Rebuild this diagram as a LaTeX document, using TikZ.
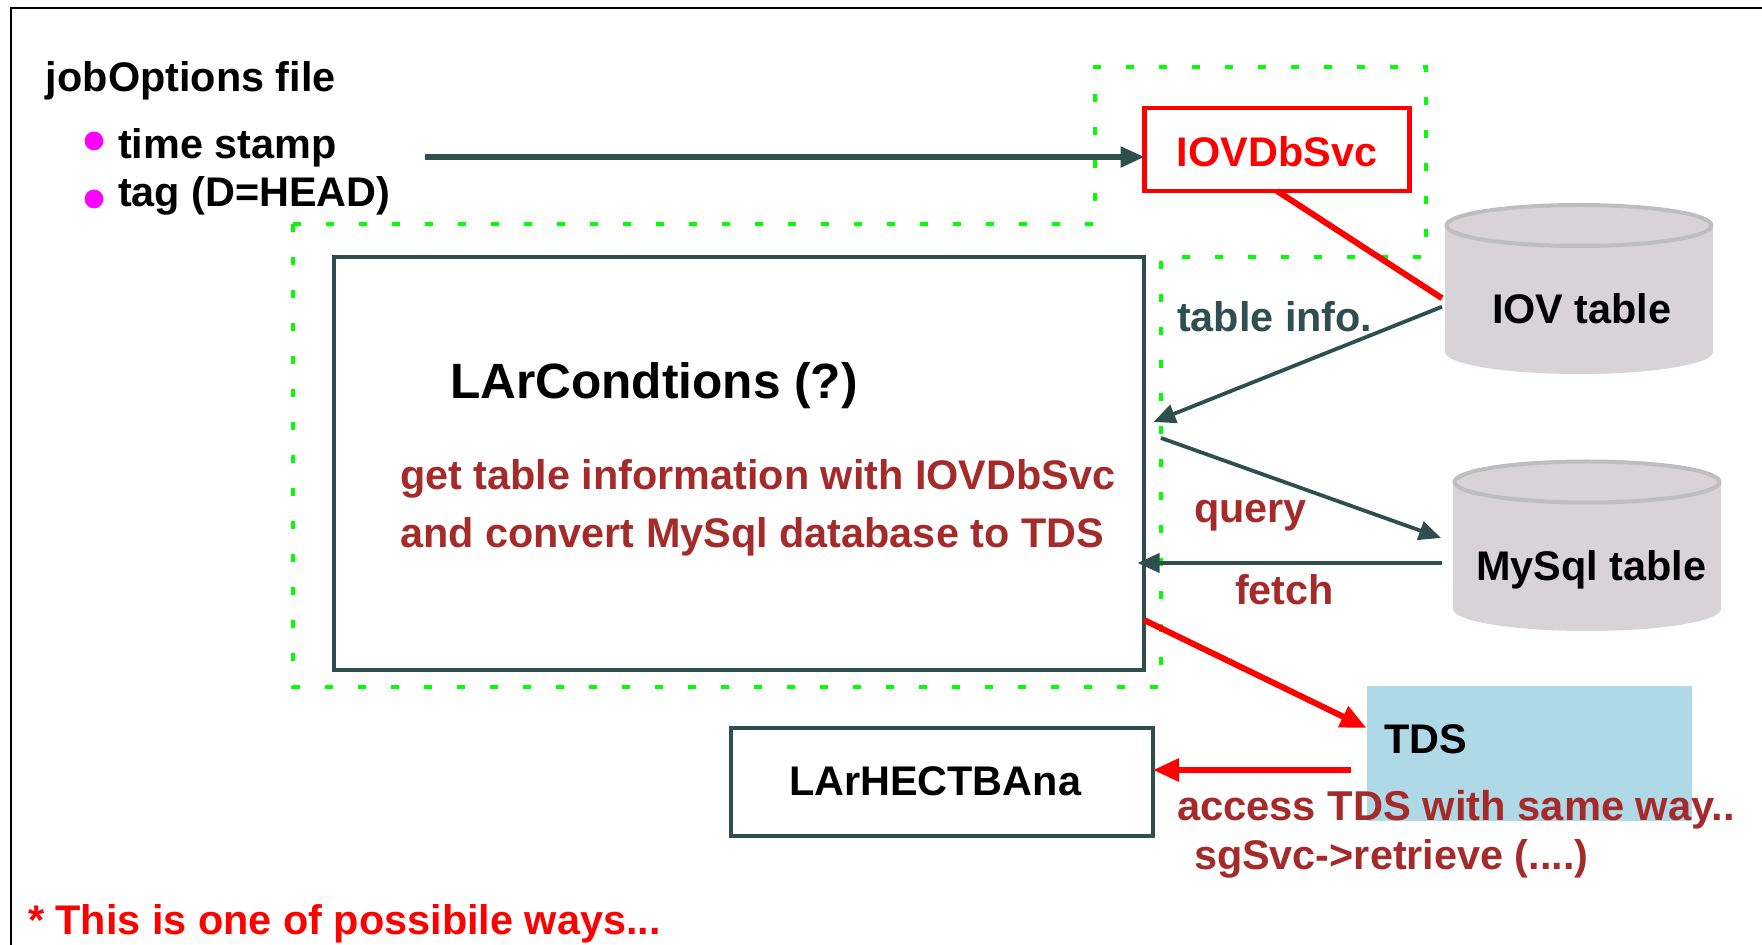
\documentclass[tikz,border=0pt]{standalone}
\usepackage{fontspec}
\setmainfont{Liberation Sans}
\usetikzlibrary{arrows.meta}
\usetikzlibrary{shapes.geometric}
\definecolor{slatedark}{HTML}{2F4F4F}
\definecolor{brownred}{HTML}{A52A2A}
\definecolor{tdsblue}{HTML}{B0D9E7}
\definecolor{dbgray}{HTML}{D7D3D7}
\definecolor{lidgray}{HTML}{BEBEBE}
\definecolor{framegreen}{HTML}{00FF00}
\definecolor{dotpink}{HTML}{FF00FF}
\tikzset{x=0.5pt,y=-0.5pt,
    every node/.style={inner sep=0pt,outer sep=0pt},
    lbl/.style={
        anchor=base west,
        font=\bfseries\fontsize{20.7}{24}\selectfont},
    bigbox/.style={
        rectangle,
        draw=slatedark,
        line width=2.4pt},
    dbbody/.style={
        rectangle,
        fill=dbgray,
        minimum width=134pt,
        minimum height=63pt},
    dbbase/.style={
        ellipse,
        fill=dbgray,
        minimum width=134pt,
        minimum height=22pt},
    dblid/.style={
        ellipse,
        fill=dbgray,
        draw=lidgray,
        line width=2pt,
        minimum width=132.5pt,
        minimum height=20.5pt},
    bullet/.style={
        circle,
        fill=dotpink,
        minimum size=9.4pt},
    darkthick/.style={
        draw=slatedark,
        line width=2.8pt,
        -{Triangle[length=12pt,width=10pt]}},
    darkthin/.style={
        draw=slatedark,
        line width=1.9pt,
        -{Triangle[length=11pt,width=9.5pt]}},
    redarrow/.style={
        draw=red,
        line width=3pt,
        -{Triangle[length=13pt,width=11pt]}}}
\begin{document}
\begin{tikzpicture}
    \useasboundingbox (0,0) rectangle (1762,945);
    \draw[line width=1pt] (10.5,945) -- (10.5,8.5) -- (1762,8.5);
    % dotted outline round the two services
    \draw[framegreen,line width=2.3pt,dash pattern=on 4.2pt off 12.3pt]
        (293,224) -- (1095,224) -- (1095,67) -- (1426,67) -- (1426,257)
        -- (1161,257) -- (1161,687) -- (293,687) -- cycle;

    \node[lbl] (jobopt) at (46,92) {jobOptions file};
    \node[bullet] (stampdot) at (94,141) {};
    \node[bullet] (tagdot) at (94,199) {};
    \node[lbl] (stamp) at (118,159) {time stamp};
    \node[lbl] (tag) at (118,207) {tag (D=HEAD)};
    \coordinate (jobend) at (425,157);

    \node[rectangle,draw=red,line width=2.4pt,text=red,text height=16.8pt,
        font=\bfseries\fontsize{20.7}{24}\selectfont,
        minimum width=132.5pt,minimum height=41.5pt] (iovsvc) at (1277,149.5) {IOVDbSvc};
    \node[bigbox,minimum width=405pt,minimum height=206.5pt] (larcond) at (739,463.5) {};
    \node[bigbox,minimum width=211pt,minimum height=54pt] (lartb) at (942,782) {};
    \node[rectangle,fill=tdsblue,minimum width=162.5pt,minimum height=67.5pt] (tdsbox) at (1529,753.5) {};

    \node[dbbase] (iovbase) at (1579,352) {};
    \node[dbbody] (iovdb) at (1579,288.75) {};
    \node[dblid] (iovlid) at (1579,225.5) {};
    \node[dbbase] (mysqlbase) at (1587,609) {};
    \node[dbbody] (mysqldb) at (1587,545) {};
    \node[dblid] (mysqllid) at (1587,482) {};

    \node[lbl,font=\bfseries\fontsize{24.8}{28}\selectfont] (condname) at (450,399) {LArCondtions (?)};
    \node[lbl,text=brownred] (condone) at (400,490) {get table information with IOVDbSvc};
    \node[lbl,text=brownred] (condtwo) at (400,548) {and convert MySql database to TDS};
    \node[lbl] (tbname) at (789,796) {LArHECTBAna};
    \node[lbl] (iovname) at (1492,324) {IOV table};
    \node[lbl] (mysqlname) at (1476,581) {MySql table};
    \node[lbl] (tdsname) at (1384,754) {TDS};
    \node[lbl,text=slatedark] (infolbl) at (1177,332) {table info.};
    \node[lbl,text=brownred] (querylbl) at (1194,523) {query};
    \node[lbl,text=brownred] (fetchlbl) at (1235,605) {fetch};
    \node[lbl,text=brownred,font=\bfseries\fontsize{20.85}{24}\selectfont] (accesslbl) at (1177,821) {access TDS with same way..};
    \node[lbl,text=brownred] (retrievelbl) at (1194,870) {sgSvc->retrieve (....)};
    \node[lbl,text=red] (notelbl) at (28,935) {* This is one of possibile ways...};

    \draw[darkthick] (jobend) -- (iovsvc.west |- jobend);
    \draw[draw=red,line width=3pt] (iovsvc.south) -- ([shift={(-1.5pt,-4.75pt)}]iovdb.west);
    \draw[darkthin] ([shift={(-1.5pt,-9pt)}]iovdb.west) -- ([shift={(4.75pt,20.75pt)}]larcond.east);
    \draw[darkthin] ([shift={(8.5pt,12.75pt)}]larcond.east) -- ([shift={(-6pt,3.5pt)}]mysqldb.west);
    \draw[darkthin] ([shift={(-5.5pt,-9pt)}]mysqldb.west) -- ([shift={(-3.25pt,-49.75pt)}]larcond.east);
    \draw[redarrow] ([yshift=-78.25pt]larcond.east) -- ([yshift=12.75pt]tdsbox.west);
    \draw[redarrow] ([shift={(-8pt,-8.25pt)}]tdsbox.west) -- ([yshift=6pt]lartb.east);
\end{tikzpicture}
\end{document}
